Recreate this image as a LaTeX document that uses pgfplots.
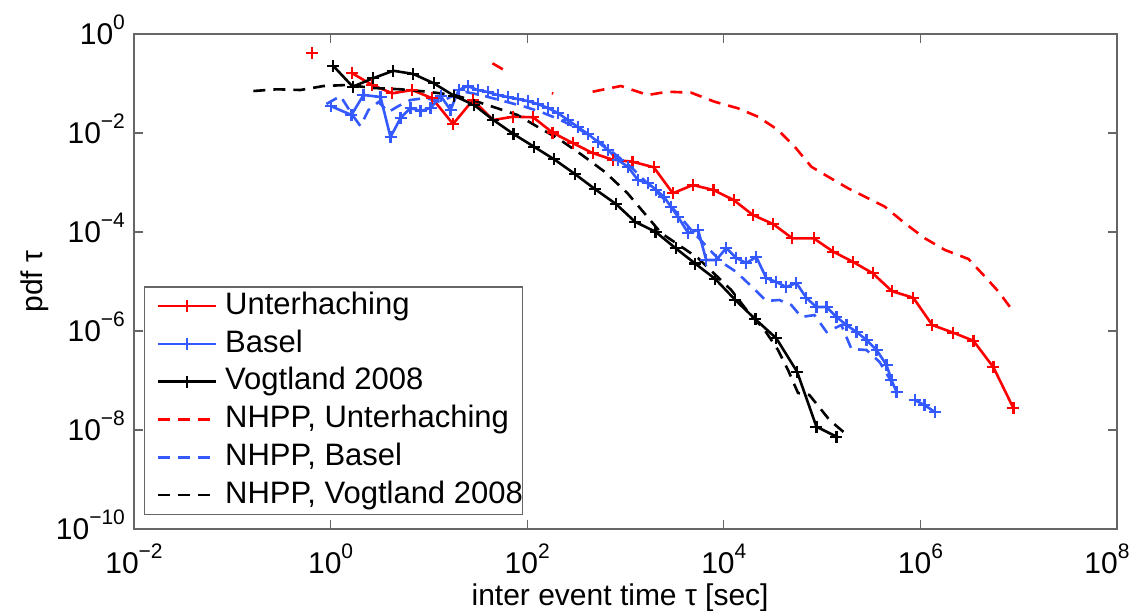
\documentclass[border=0pt]{standalone}
\usepackage{fontspec}
\setmainfont{Liberation Sans}
\usepackage{pgfplots}
\pgfplotsset{compat=1.18}
\definecolor{mblue}{rgb}{0.2,0.35,1}
\definecolor{mred}{rgb}{1,0,0}
\newcommand\ex[1]{10\raisebox{7.5pt}{\fontsize{10.5}{11}\selectfont #1}}
\begin{document}
\begin{tikzpicture}
\begin{loglogaxis}[
  scale only axis, width=491.5pt, height=247.5pt,
  xmin=1e-2, xmax=1e8, ymin=1e-10, ymax=1,
  xtick={1e-2,1,1e2,1e4,1e6,1e8},
  xticklabels={\ex{−2},\ex{0},\ex{2},\ex{4},\ex{6},{\ex{8}\hspace*{10pt}}},
  ytick={1e-10,1e-8,1e-6,1e-4,1e-2,1},
  yticklabels={\ex{−10},\ex{−8},\ex{−6},\ex{−4},\ex{−2},\ex{0}},
  minor tick style={draw=none},
  tick align=inside, major tick length=4.5pt,
  axis line style={black!60, line width=0.6pt},
  tick style={black!60, line width=0.6pt},
  ticklabel style={font=\fontsize{15}{17}\selectfont},
  xticklabel style={anchor=base, yshift=-22pt},
  yticklabel style={anchor=base east, yshift=-5.3pt, xshift=-1pt},
  label style={font=\fontsize{15}{18}\selectfont},
  xlabel={inter event time τ [sec]},
  ylabel={pdf τ},
  xlabel style={at={(axis description cs:0.4945,0)}, anchor=base, yshift=-38pt},
  ylabel style={at={(axis description cs:-0.1007,0.5)}, anchor=center},
  legend image code/.code={\path (0pt,0pt); \draw[mark repeat=2,mark phase=2] plot coordinates {(6pt,0pt)(20.5pt,0pt)(35pt,0pt)};},
  legend cell align=left,
  legend style={at={(0.0102,0.0283)}, anchor=south west, draw=black!60, line width=0.6pt,
    fill=white, font=\fontsize{15.5}{18}\selectfont, inner xsep=0pt, inner ysep=2pt,
    row sep=3.7pt, nodes={inner sep=0pt, text height=11.7pt, text depth=3.5pt},
    /tikz/every odd column/.append style={column sep=4pt}},
  every axis plot/.append style={line width=1.3pt},
]
% Unterhaching
\addplot[mred, mark=+, mark size=3pt, mark options={solid, line width=1.1pt}] coordinates {
(1.66,0.161)(2.65,0.0933)(4.24,0.0634)(6.78,0.0739)(10.8,0.0502)(17.6,0.0152)(28.1,0.0464)(44.9,0.0183)(71.8,0.0213)(115,0.0208)(181,0.0102)(290,0.00628)(463,0.00394)(741,0.00289)(1180,0.00263)(1940,0.00203)(3030,6.05e-4)(4840,8.90e-4)(7850,7.05e-4)(12600,4.43e-4)(19800,2.20e-4)(31700,1.45e-4)(49800,7.46e-5)(82000,7.46e-5)(130000,4.00e-5)(207000,2.48e-5)(327000,1.47e-5)(514000,6.37e-6)(847000,4.69e-6)(1.32e6,1.32e-6)(2.16e6,9.24e-7)(3.46e6,6.37e-7)(5.53e6,1.85e-7)(8.85e6,2.74e-8)
};
\addlegendentry{Unterhaching}
% Basel
\addplot[mblue, mark=+, mark size=3pt, mark options={solid, line width=1.1pt}] coordinates {
(1.00,0.0351)(1.63,0.0231)(2.16,0.0586)(3.22,0.0534)(4.07,0.00830)(5.15,0.0201)(6.51,0.0320)(8.23,0.0278)(10.4,0.0320)(13.2,0.0559)(16.6,0.0292)(20.1,0.0739)(24.8,0.0890)(31.3,0.0739)(39.7,0.0673)(50.1,0.0586)(63.4,0.0534)(80.2,0.0486)(101,0.0443)(128,0.0385)(162,0.0320)(205,0.0254)(259,0.0183)(328,0.0132)(415,0.00955)(525,0.00658)(664,0.00454)(839,0.00285)(1060,0.00206)(1340,0.00112)(1690,9.77e-4)(2050,7.05e-4)(2470,5.09e-4)(2910,3.20e-4)(3430,2.01e-4)(4340,9.55e-5)(5480,1.10e-4)(6620,2.72e-5)(8370,2.72e-5)(10600,4.75e-5)(13400,2.99e-5)(16900,2.36e-5)(21400,3.13e-5)(27000,1.18e-5)(34200,9.77e-6)(43300,7.74e-6)(54700,9.33e-6)(69200,4.65e-6)(87500,3.05e-6)(111000,3.05e-6)(140000,1.92e-6)(177000,1.32e-6)(224000,9.55e-7)(283000,6.58e-7)(358000,4.13e-7)(452000,2.06e-7)(508000,1.02e-7)(572000,5.86e-8)
};
\addlegendentry{Basel}
% Vogtland 2008
\addplot[black, mark=+, mark size=3pt, mark options={solid, line width=1.1pt}] coordinates {
(1.06,0.229)(1.68,0.0861)(2.69,0.127)(4.34,0.181)(6.93,0.156)(11.2,0.101)(18.0,0.0567)(28.8,0.0368)(45.3,0.0183)(72.5,0.00955)(117,0.00529)(188,0.00294)(308,0.00147)(492,7.29e-4)(800,3.68e-4)(1250,1.61e-4)(2020,1.01e-4)(3240,4.69e-5)(5110,2.31e-5)(8200,1.12e-5)(13100,4.23e-6)(21000,1.72e-6)(34200,7.13e-7)(55600,1.51e-7)(87500,1.17e-8)(140000,7.33e-9)
};
\addlegendentry{Vogtland 2008}
% NHPP Unterhaching
\addplot[mred, dash pattern=on 6pt off 4pt] coordinates {
(463,0.0683)(900,0.0890)(1680,0.0586)(2690,0.0683)(4660,0.0652)(8040,0.0429)(13900,0.0316)(22300,0.0213)(35600,0.0115)(52600,0.00529)(77800,0.00208)(115000,0.00131)(184000,7.64e-4)(294000,4.80e-4)(435000,3.24e-4)(695000,1.50e-4)(1.11e6,7.46e-5)(1.78e6,4.33e-5)(3.08e6,2.85e-5)(4.38e6,1.35e-5)(6.22e6,6.28e-6)(8.85e6,2.45e-6)
};
\addlegendentry{NHPP, Unterhaching}
% NHPP Basel
\addplot[mblue, dash pattern=on 6pt off 4pt] coordinates {
(0.906,0.0385)(1.26,0.0559)(1.67,0.0231)(2.01,0.0138)(2.43,0.0292)(3.07,0.0423)(3.88,0.0266)(4.91,0.0351)(6.51,0.0464)(9.25,0.0509)(13.2,0.0423)(16.6,0.0534)(23.7,0.0673)(33.7,0.0586)(47.9,0.0486)(68.1,0.0404)(96.8,0.0335)(138,0.0266)(196,0.0201)(278,0.0145)(395,0.0100)(562,0.00628)(800,0.00360)(1140,0.00206)(1620,0.00102)(2300,5.33e-4)(3270,2.54e-4)(4660,1.10e-4)(6620,5.21e-5)(9420,2.48e-5)(13400,1.56e-5)(19900,7.39e-6)(27000,4.04e-6)(36700,4.23e-6)(48600,3.35e-6)(61500,1.92e-6)(83600,2.10e-6)(111000,9.55e-7)(157000,1.32e-6)(199000,4.33e-7)(283000,4.13e-7)(384000,2.37e-7)(546000,7.40e-8)
};
\addlegendentry{NHPP, Basel}
% NHPP Vogtland 2008
\addplot[black, dash pattern=on 6pt off 4pt] coordinates {
(0.164,0.0705)(0.285,0.0764)(0.492,0.0739)(0.851,0.0890)(1.47,0.0933)(2.73,0.0811)(5.15,0.0764)(9.63,0.0683)(17.9,0.0586)(31.1,0.0429)(49.8,0.0316)(79.6,0.0231)(127,0.0134)(210,0.00757)(361,0.00360)(618,0.00163)(1050,6.05e-4)(1550,2.42e-4)(2300,9.55e-5)(5450,2.99e-5)(11900,6.73e-6)(17600,2.45e-6)(26000,1.05e-6)(35600,4.13e-7)(45000,1.63e-7)(56900,5.59e-8)(74300,5.09e-8)(119000,1.59e-8)(170000,8.69e-9)
};
\addlegendentry{NHPP, Vogtland 2008}
% separate pieces
\addplot[mred, only marks, mark=+, mark size=3pt, mark options={line width=1.1pt}, forget plot] coordinates {(0.647,0.407)};
\addplot[mred, dash pattern=on 6pt off 4pt, forget plot] coordinates {(44.3,0.256)(58.2,0.187)};
\addplot[mred, forget plot] coordinates {(178,0.0640)(184,0.0628)};
\addplot[mblue, mark=+, mark size=3pt, mark options={solid, line width=1.1pt}, forget plot] coordinates {
(873000,4.04e-8)(1.10e6,3.20e-8)(1.40e6,2.31e-8)
};
\end{loglogaxis}
\pgfresetboundingbox
\useasboundingbox (-67pt,-40.5pt) rectangle (500pt,264.5pt);
\end{tikzpicture}
\end{document}
